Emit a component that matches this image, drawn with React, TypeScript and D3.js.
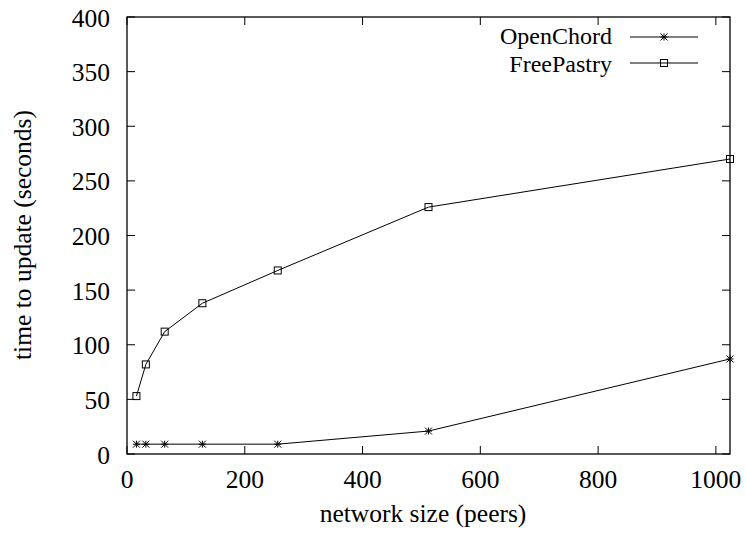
import React from "react";
import * as d3 from "d3";

const peers = [16, 32, 64, 128, 256, 512, 1024];
const openChord = [9, 9, 9, 9, 9, 21, 87];
const freePastry = [53, 82, 112, 138, 168, 226, 270];
const xTicks = [0, 200, 400, 600, 800, 1000];
const yTicks = [0, 50, 100, 150, 200, 250, 300, 350, 400];

const W = 746, H = 534;
const M = { left: 127, right: 730, top: 17, bottom: 454 };
const FONT = "'Liberation Serif', 'Times New Roman', serif";
const FS = 25.5;
const LFS = 24;

function Star({ x, y }: { x: number; y: number }) {
  const r = 3.5;
  return (
    <g stroke="#000" strokeWidth={1}>
      <line x1={x - r} y1={y} x2={x + r} y2={y} />
      <line x1={x} y1={y - r} x2={x} y2={y + r} />
      <line x1={x - r} y1={y - r} x2={x + r} y2={y + r} />
      <line x1={x - r} y1={y + r} x2={x + r} y2={y - r} />
    </g>
  );
}
function Box({ x, y }: { x: number; y: number }) {
  const r = 3.5;
  return <rect x={x - r} y={y - r} width={2 * r} height={2 * r} fill="none" stroke="#000" strokeWidth={1} />;
}

export default function App() {
  const x = d3.scaleLinear().domain([0, 1024]).range([M.left, M.right]);
  const y = d3.scaleLinear().domain([0, 400]).range([M.bottom, M.top]);
  const line = d3.line<[number, number]>().x((d) => x(d[0])).y((d) => y(d[1]));
  const ocData = peers.map((p, i) => [p, openChord[i]] as [number, number]);
  const fpData = peers.map((p, i) => [p, freePastry[i]] as [number, number]);
  const tl = 8;
  return (
    <svg width={W} height={H} style={{ position: "absolute", left: 0, top: 0 }} fontFamily={FONT}>
      <rect width={W} height={H} fill="#fff" />
      {xTicks.map((t) => (
        <g key={"x" + t}>
          <line x1={x(t)} x2={x(t)} y1={M.bottom} y2={M.bottom - tl} stroke="#000" />
          <line x1={x(t)} x2={x(t)} y1={M.top} y2={M.top + tl} stroke="#000" />
          <text x={x(t)} y={488} fontSize={FS} textAnchor="middle">{t}</text>
        </g>
      ))}
      {yTicks.map((t) => (
        <g key={"y" + t}>
          <line x1={M.left} x2={M.left + tl} y1={y(t)} y2={y(t)} stroke="#000" />
          <line x1={M.right} x2={M.right - tl} y1={y(t)} y2={y(t)} stroke="#000" />
          <text x={110} y={y(t) + 9.5} fontSize={FS} textAnchor="end">{t}</text>
        </g>
      ))}
      <rect x={M.left} y={M.top} width={M.right - M.left} height={M.bottom - M.top} fill="none" stroke="#000" strokeWidth={1.3} />
      <path d={line(ocData) || ""} fill="none" stroke="#000" strokeWidth={1} />
      <path d={line(fpData) || ""} fill="none" stroke="#000" strokeWidth={1} />
      {ocData.map((d, i) => <Star key={"s" + i} x={x(d[0])} y={y(d[1])} />)}
      {fpData.map((d, i) => <Box key={"b" + i} x={x(d[0])} y={y(d[1])} />)}
      <text x={612} y={44} fontSize={LFS} textAnchor="end">OpenChord</text>
      <line x1={630} x2={698} y1={37} y2={37} stroke="#000" />
      <Star x={664} y={37} />
      <text x={612} y={72} fontSize={LFS} textAnchor="end">FreePastry</text>
      <line x1={630} x2={698} y1={63} y2={63} stroke="#000" />
      <Box x={664} y={63} />
      <text x={423} y={522} fontSize={FS} textAnchor="middle">network size (peers)</text>
      <text transform={`translate(31, 235) rotate(-90)`} fontSize={FS} textAnchor="middle">time to update (seconds)</text>
    </svg>
  );
}
